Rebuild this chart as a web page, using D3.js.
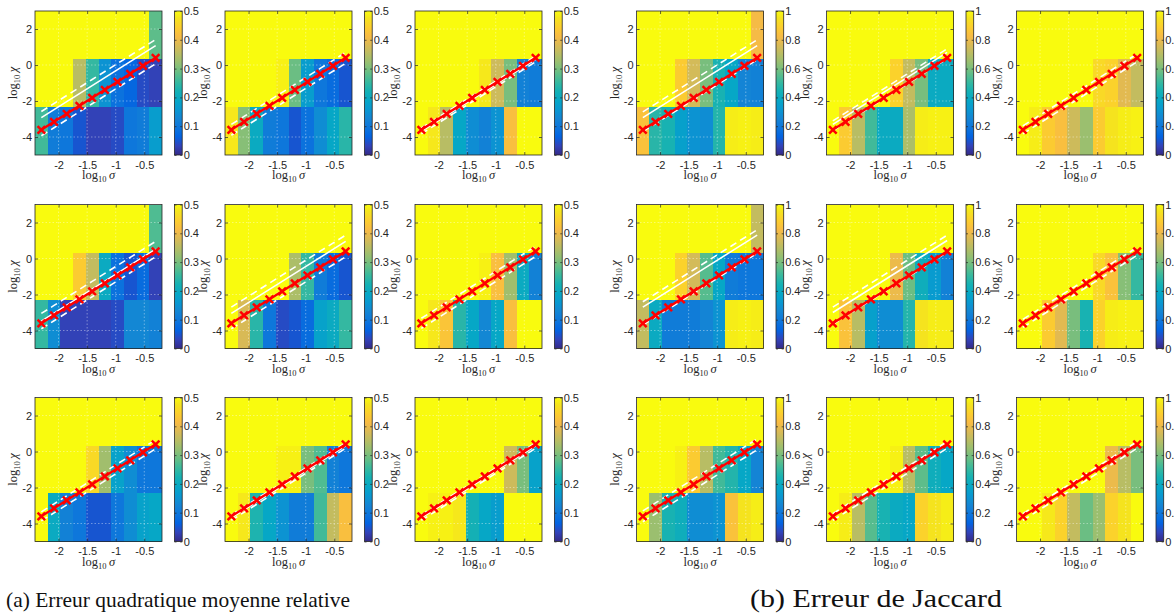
<!DOCTYPE html>
<html><head><meta charset="utf-8">
<script src="https://cdn.jsdelivr.net/npm/d3@7"></script>
<style>body{margin:0;background:#fff}</style>
</head><body><svg id="c" width="1174" height="616"></svg>
<script>
// ---------- data ----------
const sigmaLog = [-2.301, -2.079, -1.857, -1.634, -1.412, -1.190, -0.968, -0.746, -0.523, -0.301];
const chiRowEdges = [3, 0.333, -2.333, -5];
const redLine = [-3.602, -3.158, -2.713, -2.269, -1.824, -1.380, -0.935, -0.491, -0.046, 0.398];
const xTicks = [-2, -1.5, -1, -0.5];
const yTicks = [2, 0, -2, -4];
const cbTicksA = [0, 0.1, 0.2, 0.3, 0.4, 0.5];
const cbTicksB = [0, 0.2, 0.4, 0.6, 0.8, 1];

// (a) relative RMSE, rows: top, middle, bottom
const rmse11 = [[0.5,0.5,0.5,0.5,0.5,0.5,0.5,0.5,0.5,0.28],[0.5,0.5,0.5,0.35,0.25,0.15,0.09,0.07,0.04,0.03],[0.26,0.11,0.10,0.05,0.03,0.03,0.04,0.10,0.11,0.17]];
const rmse12 = [[0.5,0.5,0.5,0.5,0.5,0.5,0.5,0.5,0.5,0.5],[0.5,0.5,0.5,0.5,0.49,0.29,0.17,0.10,0.08,0.05],[0.48,0.31,0.20,0.11,0.10,0.05,0.09,0.14,0.19,0.24]];
const rmse13 = [[0.5,0.5,0.5,0.5,0.5,0.5,0.5,0.5,0.5,0.5],[0.5,0.5,0.5,0.5,0.5,0.48,0.37,0.30,0.12,0.11],[0.5,0.48,0.35,0.19,0.14,0.12,0.15,0.42,0.5,0.5]];
const rmse21 = [[0.5,0.5,0.5,0.5,0.5,0.5,0.5,0.5,0.5,0.27],[0.5,0.5,0.5,0.44,0.36,0.20,0.09,0.05,0.08,0.03],[0.25,0.14,0.03,0.03,0.03,0.03,0.04,0.13,0.13,0.12]];
const rmse22 = [[0.5,0.5,0.5,0.5,0.5,0.5,0.5,0.5,0.5,0.5],[0.5,0.5,0.5,0.5,0.5,0.34,0.25,0.11,0.08,0.05],[0.5,0.38,0.24,0.10,0.04,0.05,0.08,0.18,0.20,0.25]];
const rmse23 = [[0.5,0.5,0.5,0.5,0.5,0.5,0.5,0.5,0.5,0.5],[0.5,0.5,0.5,0.5,0.5,0.49,0.42,0.33,0.20,0.12],[0.5,0.48,0.43,0.24,0.19,0.13,0.19,0.42,0.5,0.5]];
const rmse31 = [[0.5,0.5,0.5,0.5,0.5,0.5,0.5,0.5,0.5,0.5],[0.5,0.5,0.5,0.5,0.46,0.33,0.18,0.14,0.10,0.10],[0.5,0.20,0.12,0.10,0.05,0.05,0.10,0.14,0.18,0.19]];
const rmse32 = [[0.5,0.5,0.5,0.5,0.5,0.5,0.5,0.5,0.5,0.5],[0.5,0.5,0.5,0.5,0.49,0.49,0.30,0.27,0.12,0.10],[0.5,0.48,0.23,0.19,0.15,0.11,0.11,0.26,0.36,0.42]];
const rmse33 = [[0.5,0.5,0.5,0.5,0.5,0.5,0.5,0.5,0.5,0.5],[0.5,0.5,0.5,0.5,0.5,0.5,0.5,0.37,0.30,0.18],[0.5,0.49,0.49,0.48,0.22,0.19,0.17,0.5,0.5,0.5]];

// (b) Jaccard error
const jac11 = [[1,1,1,1,1,1,1,1,1,0.82],[1,1,1,0.88,0.75,0.60,0.45,0.38,0.25,0.24],[0.85,0.48,0.45,0.35,0.30,0.28,0.47,0.97,0.98,0.97]];
const jac12 = [[1,1,1,1,1,1,1,1,1,1],[1,1,1,1,1,0.90,0.72,0.60,0.40,0.40],[1,0.88,0.70,0.52,0.40,0.40,0.68,0.97,0.98,0.98]];
const jac13 = [[1,1,1,1,1,1,1,1,1,1],[1,1,1,1,1,1,0.92,0.90,0.78,0.72],[1,0.97,0.88,0.84,0.74,0.65,0.88,0.95,0.97,0.98]];
const jac21 = [[1,1,1,1,1,1,1,1,1,0.72],[1,1,1,0.90,0.75,0.55,0.38,0.22,0.20,0.20],[0.72,0.40,0.22,0.22,0.22,0.25,0.30,0.97,0.98,0.97]];
const jac22 = [[1,1,1,1,1,1,1,1,1,1],[1,1,1,1,1,0.80,0.58,0.42,0.33,0.24],[1,0.85,0.70,0.35,0.28,0.28,0.47,0.95,0.97,0.97]];
const jac23 = [[1,1,1,1,1,1,1,1,1,1],[1,1,1,1,1,1,0.92,0.85,0.62,0.50],[1,1,0.88,0.78,0.60,0.45,0.90,0.97,0.98,0.98]];
const jac31 = [[1,1,1,1,1,1,1,1,1,1],[1,1,1,0.98,0.88,0.70,0.52,0.47,0.38,0.25],[1,0.65,0.45,0.42,0.28,0.28,0.30,0.85,0.95,0.97]];
const jac32 = [[1,1,1,1,1,1,1,1,1,1],[1,1,1,1,1,0.98,0.70,0.56,0.42,0.38],[1,0.97,0.70,0.55,0.45,0.40,0.38,0.90,0.95,0.97]];
const jac33 = [[1,1,1,1,1,1,1,1,1,1],[1,1,1,1,1,1,1,0.80,0.70,0.60],[1,1,0.96,0.90,0.72,0.58,0.65,0.90,0.95,1]];

// white estimated boundaries: [solid, upper dashed, lower dashed] offsets from red line (log10 chi)
const whiteA = [[0.68,1.02,-0.33],[0.0,0.3,-0.3],[-0.08,0.1,-0.22],[0.12,0.55,-0.3],[0.55,0.9,-0.3],[0.0,0.28,-0.28],[0.0,0.25,-0.25],[-0.08,0.08,-0.22],[-0.08,0.08,-0.22]];
const whiteB = [[0.68,1.0,-0.1],[0.3,0.5,-0.05],[0.0,0.22,-0.22],[0.9,1.2,-0.1],[0.6,0.9,-0.05],[0.0,0.22,-0.22],[0.0,0.3,-0.3],[0.0,0.15,-0.22],[0.0,0.15,-0.22]];

const panelsA = [rmse11, rmse12, rmse13, rmse21, rmse22, rmse23, rmse31, rmse32, rmse33];
const panelsB = [jac11, jac12, jac13, jac21, jac22, jac23, jac31, jac32, jac33];

// parula colormap samples
const parulaIdx = [0,4,8,12,16,20,24,28,32,36,40,44,48,52,56,60,63];
const parulaRGB = [[0.2081,0.1663,0.5292],[0.1959,0.2645,0.7279],[0.0117,0.3875,0.8820],[0.0498,0.4586,0.8641],[0.0793,0.5200,0.8312],[0.0343,0.5966,0.8199],[0.0228,0.6535,0.7768],[0.0843,0.6928,0.7062],[0.2178,0.7250,0.6193],[0.3953,0.7459,0.5244],[0.5709,0.7485,0.4494],[0.7184,0.7411,0.3905],[0.8507,0.7299,0.3360],[0.9739,0.7314,0.2666],[0.9880,0.8066,0.1794],[0.9589,0.8949,0.1132],[0.9763,0.9831,0.0538]];

// ---------- layout ----------
const W = 127, H = 144;
const colLeftA = [35, 225, 415], colLeftB = [636.5, 826.5, 1016.5];
const rowTop = [11, 204.5, 397.5];
const axisColor = '#262626';
const tickFont = "'Liberation Sans', Arial, Helvetica, sans-serif";
const serif = "'Liberation Serif', 'Times New Roman', serif";

const parula = d3.scaleLinear()
  .domain(parulaIdx.map(i => i / 63))
  .range(parulaRGB.map(c => d3.rgb(c[0]*255, c[1]*255, c[2]*255).toString()))
  .interpolate(d3.interpolateRgb).clamp(true);

const svg = d3.select('#c');
const defs = svg.append('defs');
const grad = defs.append('linearGradient').attr('id', 'parula')
  .attr('x1', 0).attr('y1', 1).attr('x2', 0).attr('y2', 0);
parulaIdx.forEach((idx, i) => grad.append('stop').attr('offset', idx / 63)
  .attr('stop-color', parula(idx / 63)));

const half = (sigmaLog[1] - sigmaLog[0]) / 2;
const x = d3.scaleLinear().domain([sigmaLog[0] - half, sigmaLog[sigmaLog.length-1] + half]).range([0, W]);
const y = d3.scaleLinear().domain([chiRowEdges[3], chiRowEdges[0]]).range([H, 0]);

function styleAxis(sel) {
  sel.select('.domain').remove();
  sel.attr('font-family', tickFont).attr('font-size', 11);
  sel.selectAll('line').attr('stroke', axisColor).attr('stroke-width', 0.7);
  sel.selectAll('text').attr('fill', axisColor);
}

function panel(left, top, vals, vmax, cbTicks, off) {
  const g = svg.append('g').attr('transform', `translate(${left},${top})`);
  // cells
  vals.forEach((row, r) => row.forEach((v, c) => {
    g.append('rect')
      .attr('x', x(sigmaLog[c] - half)).attr('y', y(chiRowEdges[r]))
      .attr('width', x(sigmaLog[c] + half) - x(sigmaLog[c] - half))
      .attr('height', y(chiRowEdges[r + 1]) - y(chiRowEdges[r]))
      .attr('fill', parula(v / vmax)).attr('shape-rendering', 'crispEdges');
  }));
  // grid
  xTicks.forEach(t => g.append('line').attr('x1', x(t)).attr('x2', x(t)).attr('y1', 0).attr('y2', H)
    .attr('stroke', 'rgba(255,255,255,0.55)').attr('stroke-width', 0.7).attr('stroke-dasharray', '1.5,2'));
  yTicks.forEach(t => g.append('line').attr('y1', y(t)).attr('y2', y(t)).attr('x1', 0).attr('x2', W)
    .attr('stroke', 'rgba(255,255,255,0.55)').attr('stroke-width', 0.7).attr('stroke-dasharray', '1.5,2'));
  // white lines
  const ln = d3.line().x((d, i) => x(sigmaLog[i])).y(d => y(d));
  [[off[1], '7,4.5'], [off[2], '7,4.5'], [off[0], null]].forEach(([o, dash]) => {
    const p = g.append('path').datum(redLine.map(v => v + o)).attr('d', ln)
      .attr('fill', 'none').attr('stroke', '#fff').attr('stroke-width', 1.6);
    if (dash) p.attr('stroke-dasharray', dash);
  });
  // red line + markers
  g.append('path').datum(redLine).attr('d', ln).attr('fill', 'none')
    .attr('stroke', '#ff0000').attr('stroke-width', 2.3);
  const s = 3.8;
  g.selectAll('path.mk').data(redLine).enter().append('path').attr('class', 'mk')
    .attr('d', (d, i) => `M${x(sigmaLog[i])-s},${y(d)-s}L${x(sigmaLog[i])+s},${y(d)+s}M${x(sigmaLog[i])-s},${y(d)+s}L${x(sigmaLog[i])+s},${y(d)-s}`)
    .attr('stroke', '#ff0000').attr('stroke-width', 2.5).attr('fill', 'none');
  // border
  g.append('rect').attr('width', W).attr('height', H).attr('fill', 'none')
    .attr('stroke', axisColor).attr('stroke-width', 0.8);
  // axes
  styleAxis(g.append('g').attr('transform', `translate(0,${H})`)
    .call(d3.axisBottom(x).tickValues(xTicks).tickSize(-3).tickPadding(6).tickFormat(d => String(d))));
  styleAxis(g.append('g')
    .call(d3.axisTop(x).tickValues(xTicks).tickSize(-3).tickFormat('')));
  styleAxis(g.append('g')
    .call(d3.axisLeft(y).tickValues(yTicks).tickSize(-3).tickPadding(3).tickFormat(d => String(d))));
  styleAxis(g.append('g').attr('transform', `translate(${W},0)`)
    .call(d3.axisRight(y).tickValues(yTicks).tickSize(-3).tickFormat('')));
  // axis labels
  const xl = g.append('text').attr('x', W / 2).attr('y', H + 24).attr('text-anchor', 'middle')
    .attr('font-family', serif).attr('font-size', 12.5).attr('fill', axisColor);
  xl.append('tspan').text('log');
  xl.append('tspan').attr('font-size', 8.5).attr('dy', 3).text('10');
  xl.append('tspan').attr('dy', -3).attr('font-style', 'italic').text('\u2009σ');
  const yl = g.append('text').attr('transform', `translate(-18,${H / 2}) rotate(-90)`)
    .attr('text-anchor', 'middle').attr('font-family', serif).attr('font-size', 12.5).attr('fill', axisColor);
  yl.append('tspan').text('log');
  yl.append('tspan').attr('font-size', 8.5).attr('dy', 3).text('10');
  yl.append('tspan').attr('dy', -3).attr('font-style', 'italic').text('\u2009χ');
  // colorbar
  const cbw = 7.7;
  const cb = g.append('g').attr('transform', `translate(139.5,0)`);
  cb.append('rect').attr('width', cbw).attr('height', H).attr('fill', 'url(#parula)')
    .attr('stroke', axisColor).attr('stroke-width', 0.8);
  const cy = d3.scaleLinear().domain([0, vmax]).range([H, 0]);
  styleAxis(cb.append('g').attr('transform', `translate(${cbw},0)`)
    .call(d3.axisRight(cy).tickValues(cbTicks).tickSize(-2).tickPadding(1.5).tickFormat(d => String(d))));
  styleAxis(cb.append('g')
    .call(d3.axisLeft(cy).tickValues(cbTicks).tickSize(-2).tickFormat('')));
}

panelsA.forEach((vals, i) => panel(colLeftA[i % 3], rowTop[Math.floor(i / 3)], vals, 0.5, cbTicksA, whiteA[i]));
panelsB.forEach((vals, i) => panel(colLeftB[i % 3], rowTop[Math.floor(i / 3)], vals, 1, cbTicksB, whiteB[i]));

// captions
function caption(x0, width, size, label) {
  svg.append('text').attr('x', x0).attr('y', 607).attr('font-family', serif)
    .attr('font-size', size).attr('fill', '#111')
    .attr('textLength', width).attr('lengthAdjust', 'spacingAndGlyphs').text(label);
}
caption(6, 344, 22, '(a) Erreur quadratique moyenne relative');
caption(750, 252, 25, '(b) Erreur de Jaccard');
</script>
</body></html>
